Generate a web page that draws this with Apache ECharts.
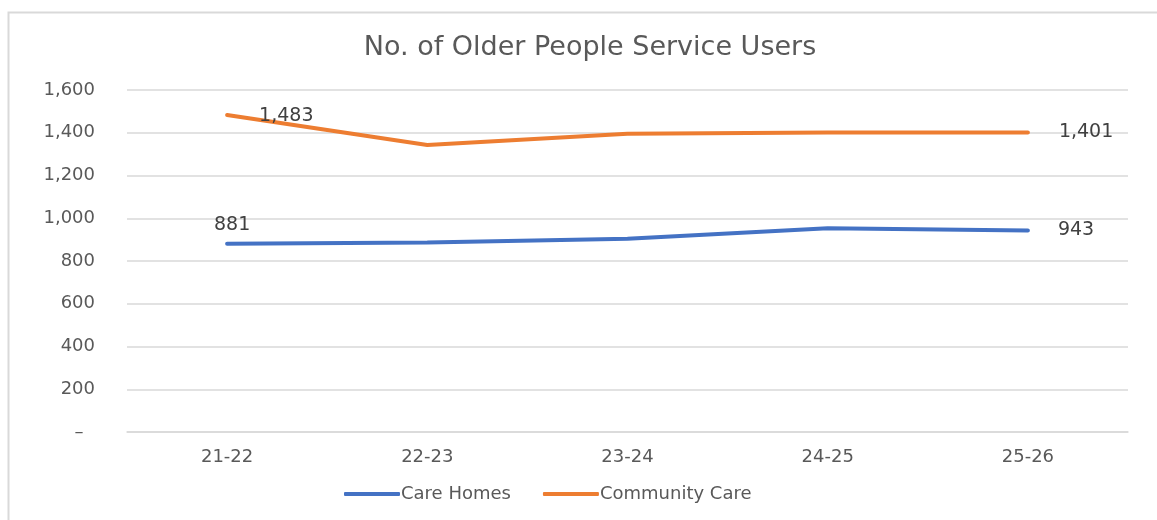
<!DOCTYPE html>
<html>
<head>
<meta charset="utf-8">
<script src="https://cdn.jsdelivr.net/npm/echarts@6/dist/echarts.min.js"></script>
<style>html,body{margin:0;padding:0;background:#fff;}#c{width:1157px;height:520px;}</style>
</head>
<body>
<div id="c"></div>
<script>
const categories = ['21-22', '22-23', '23-24', '24-25', '25-26'];
const careHomes = [881, 886, 904, 953, 943];
const communityCare = [1483, 1343, 1395, 1401, 1401];
const titleText = 'No. of Older People Service Users';
const seriesNames = ['Care Homes', 'Community Care'];

const FONT = '"DejaVu Sans", sans-serif';
const chart = echarts.init(document.getElementById('c'));
function fmt(v){ return v === 0 ? '–  ' : v.toLocaleString('en-US'); }
const lastIdx = categories.length - 1;
function buildData(values, firstLabel, lastLabel){
  return values.map(function(v, i){
    const item = { value: v };
    if (i === 0) item.label = Object.assign({ show: true }, firstLabel);
    else if (i === lastIdx) item.label = Object.assign({ show: true }, lastLabel);
    return item;
  });
}
const labelBase = { show: false, fontFamily: FONT, fontSize: 19, color: '#404040', formatter: function(p){ return fmt(p.value); } };
chart.setOption({
  animation: false,
  backgroundColor: '#fff',
  graphic: [{ type: 'rect', shape: { x: 8.5, y: 12.5, width: 1160, height: 520 }, style: { fill: 'none', stroke: '#d9d9d9', lineWidth: 2 } }],
  title: { text: titleText, left: 585, textAlign: 'center', top: 29, textStyle: { fontFamily: FONT, fontSize: 27, fontWeight: 'normal', color: '#595959' } },
  legend: { bottom: 12, left: 339, itemWidth: 56, itemHeight: 4, itemGap: 32, icon: 'roundRect',
    textStyle: { fontFamily: FONT, fontSize: 18, color: '#595959', padding: [0,0,0,-4] }, data: seriesNames },
  grid: { left: 127, right: 29, top: 90, bottom: 88 },
  xAxis: { type: 'category', data: categories, boundaryGap: true,
    axisLine: { lineStyle: { color: '#d9d9d9', width: 1.5 } }, axisTick: { show: false },
    axisLabel: { fontFamily: FONT, fontSize: 18, color: '#595959', margin: 16 } },
  yAxis: { type: 'value', min: 0, max: 1600, interval: 200,
    axisLine: { show: false }, axisTick: { show: false },
    splitLine: { lineStyle: { color: '#d9d9d9', width: 1.5 } },
    axisLabel: { fontFamily: FONT, fontSize: 18, color: '#595959', margin: 32, formatter: fmt } },
  series: [
    { name: seriesNames[0], type: 'line', symbol: 'circle', symbolSize: 0.01, showSymbol: true, itemStyle: { color: '#4472c4' },
      data: buildData(careHomes, { position: 'top', offset: [5, -4] }, { position: 'right', distance: 30 }),
      lineStyle: { color: '#4472c4', width: 4, cap: 'round' },
      label: labelBase },
    { name: seriesNames[1], type: 'line', symbol: 'circle', symbolSize: 0.01, showSymbol: true, itemStyle: { color: '#ed7d31' },
      data: buildData(communityCare, { position: 'right', distance: 32, offset: [0, 1] }, { position: 'right', distance: 31 }),
      lineStyle: { color: '#ed7d31', width: 4, cap: 'round' },
      label: labelBase }
  ]
});
</script>
</body>
</html>
